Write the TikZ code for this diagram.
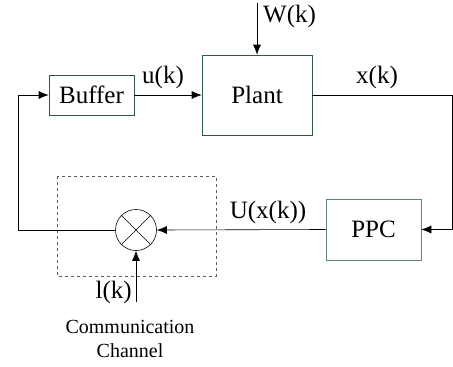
\documentclass[tikz,border=0pt]{standalone}
\usepackage{fontspec}
\setmainfont{Liberation Serif}
\usetikzlibrary{arrows.meta, positioning, calc}

\definecolor{boxgreen}{RGB}{46,90,62}
\definecolor{ppcgreen}{RGB}{90,135,105}

\begin{document}
\begin{tikzpicture}[x=1pt, y=-1pt,
  block/.style={draw=boxgreen, semithick, align=center, inner sep=0pt, font=\fontsize{25}{30}\selectfont},
  arrow/.style={-{Latex[length=10pt, width=8pt]}, semithick},
  flowline/.style={semithick},
  lbl/.style={inner sep=1pt, font=\fontsize{25}{30}\selectfont}
]
\useasboundingbox (0,0) rectangle (453,367);
\node[block, minimum width=85pt, minimum height=40pt] at (91.5,95) (buffer) {Buffer};
\node[block, minimum width=110pt, minimum height=80pt] at (257,95) (plant) {Plant};
\node[block, draw=ppcgreen, minimum width=95pt, minimum height=61pt] at (373.5,229.5) (ppc) {PPC};
\node[draw, circle, semithick, minimum size=41pt, inner sep=0pt] at (136,230) (mult) {};
\draw[flowline] (mult.north east) -- (mult.south west);
\draw[flowline] (mult.north west) -- (mult.south east);
\draw[gray!70!black, dashed, thin] (57,176) rectangle (216,276);
\coordinate (wtop) at (257,3);
\coordinate (ltop) at (136,302);
\coordinate (outright) at (452,95);
\coordinate (inleft) at (18,95);
\draw[arrow] (wtop) -- (plant.north);
\draw[arrow] (buffer.east) -- (plant.west);
\draw[flowline] (plant.east) -- (outright);
\draw[arrow] (outright) |- (ppc.east);
\draw[arrow] (ppc.west) -- (mult.east);
\draw[flowline] (mult.west) -| (inleft);
\draw[arrow] (inleft) -- (buffer.west);
\draw[arrow] (ltop) -- (mult.south);
\node[lbl, anchor=west] at (262,16) (wlbl) {W(k)};
\node[lbl] at (163,77) (ulbl) {u(k)};
\node[lbl] at (377,77) (xlbl) {x(k)};
\node[lbl] at (268,212) (Ulbl) {U(x(k))};
\node[lbl, anchor=east] at (133,292) (llbl) {l(k)};
\node[align=center, font=\fontsize{20}{24}\selectfont] at (130,339) (chan) {Communication\\Channel};
\end{tikzpicture}
\end{document}
